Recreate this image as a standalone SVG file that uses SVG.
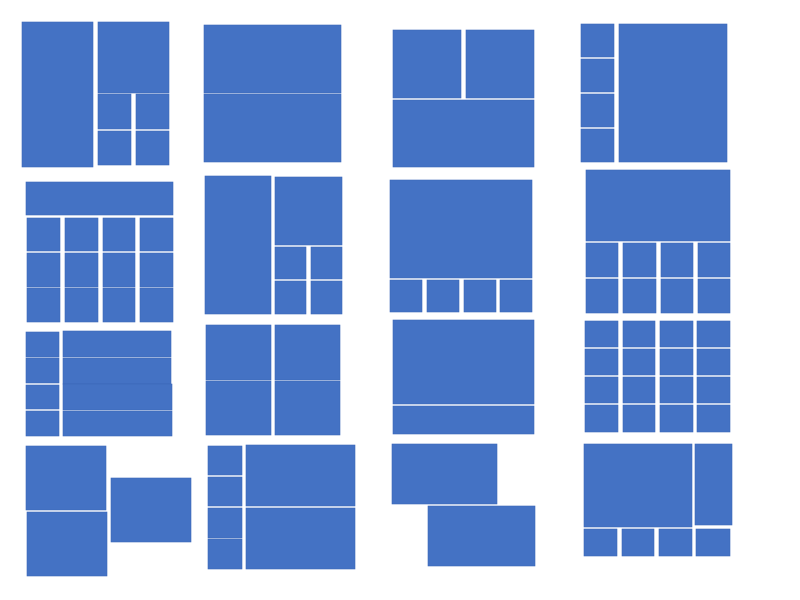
<svg xmlns="http://www.w3.org/2000/svg" width="800" height="600" viewBox="0 0 800 600">
<style>
rect.t{fill:#4472C4;stroke:#3D68B8;stroke-width:0.6}
</style>
<rect width="800" height="600" fill="#FFFFFF"/>
<g id="layout1">
<rect class="t" x="22" y="22" width="71" height="145"/>
<rect class="t" x="98" y="22" width="71" height="71"/>
<rect class="t" x="98" y="94" width="33" height="35"/>
<rect class="t" x="136" y="94" width="33" height="35"/>
<rect class="t" x="98" y="131" width="33" height="34"/>
<rect class="t" x="136" y="131" width="33" height="34"/>
</g>
<g id="layout2">
<rect class="t" x="204" y="25" width="137" height="68"/>
<rect class="t" x="204" y="94" width="137" height="68"/>
</g>
<g id="layout3">
<rect class="t" x="393" y="30" width="68" height="68"/>
<rect class="t" x="466" y="30" width="68" height="68"/>
<rect class="t" x="393" y="100" width="141" height="67"/>
</g>
<g id="layout4">
<rect class="t" x="581" y="24" width="33" height="33"/>
<rect class="t" x="581" y="59" width="33" height="33"/>
<rect class="t" x="581" y="94" width="33" height="33"/>
<rect class="t" x="581" y="129" width="33" height="33"/>
<rect class="t" x="619" y="24" width="108" height="138"/>
</g>
<g id="layout5">
<rect class="t" x="26" y="182" width="147" height="33"/>
<rect class="t" x="27" y="218" width="33" height="33"/>
<rect class="t" x="65" y="218" width="33" height="33"/>
<rect class="t" x="103" y="218" width="32" height="33"/>
<rect class="t" x="140" y="218" width="33" height="33"/>
<rect class="t" x="27" y="253" width="33" height="34"/>
<rect class="t" x="65" y="253" width="33" height="34"/>
<rect class="t" x="103" y="253" width="32" height="34"/>
<rect class="t" x="140" y="253" width="33" height="34"/>
<rect class="t" x="27" y="288" width="33" height="34"/>
<rect class="t" x="65" y="288" width="33" height="34"/>
<rect class="t" x="103" y="288" width="32" height="34"/>
<rect class="t" x="140" y="288" width="33" height="34"/>
</g>
<g id="layout6">
<rect class="t" x="205" y="176" width="66" height="138"/>
<rect class="t" x="275" y="177" width="67" height="68"/>
<rect class="t" x="275" y="247" width="31" height="32"/>
<rect class="t" x="311" y="247" width="31" height="32"/>
<rect class="t" x="275" y="281" width="31" height="33"/>
<rect class="t" x="311" y="281" width="31" height="33"/>
</g>
<g id="layout7">
<rect class="t" x="390" y="180" width="142" height="98"/>
<rect class="t" x="390" y="280" width="32" height="32"/>
<rect class="t" x="427" y="280" width="32" height="32"/>
<rect class="t" x="464" y="280" width="32" height="32"/>
<rect class="t" x="500" y="280" width="32" height="32"/>
</g>
<g id="layout8">
<rect class="t" x="586" y="170" width="144" height="71"/>
<rect class="t" x="586" y="243" width="32" height="34"/>
<rect class="t" x="623" y="243" width="33" height="34"/>
<rect class="t" x="661" y="243" width="32" height="34"/>
<rect class="t" x="698" y="243" width="32" height="34"/>
<rect class="t" x="586" y="279" width="32" height="34"/>
<rect class="t" x="623" y="279" width="33" height="34"/>
<rect class="t" x="661" y="279" width="32" height="34"/>
<rect class="t" x="698" y="279" width="32" height="34"/>
</g>
<g id="layout9">
<rect class="t" x="26" y="332" width="33" height="25"/>
<rect class="t" x="26" y="358" width="33" height="25"/>
<rect class="t" x="26" y="385" width="33" height="24"/>
<rect class="t" x="26" y="411" width="33" height="25"/>
<rect class="t" x="63" y="331" width="108" height="26"/>
<rect class="t" x="63" y="358" width="108" height="26"/>
<rect class="t" x="63" y="384" width="109" height="26"/>
<rect class="t" x="63" y="411" width="109" height="25"/>
</g>
<g id="layout10">
<rect class="t" x="206" y="325" width="65" height="55"/>
<rect class="t" x="275" y="325" width="65" height="55"/>
<rect class="t" x="206" y="381" width="65" height="54"/>
<rect class="t" x="275" y="381" width="65" height="54"/>
</g>
<g id="layout11">
<rect class="t" x="393" y="320" width="141" height="84"/>
<rect class="t" x="393" y="406" width="141" height="28"/>
</g>
<g id="layout12">
<rect class="t" x="585" y="321" width="33" height="26"/>
<rect class="t" x="623" y="321" width="32" height="26"/>
<rect class="t" x="660" y="321" width="33" height="26"/>
<rect class="t" x="697" y="321" width="33" height="26"/>
<rect class="t" x="585" y="349" width="33" height="26"/>
<rect class="t" x="623" y="349" width="32" height="26"/>
<rect class="t" x="660" y="349" width="33" height="26"/>
<rect class="t" x="697" y="349" width="33" height="26"/>
<rect class="t" x="585" y="377" width="33" height="26"/>
<rect class="t" x="623" y="377" width="32" height="26"/>
<rect class="t" x="660" y="377" width="33" height="26"/>
<rect class="t" x="697" y="377" width="33" height="26"/>
<rect class="t" x="585" y="405" width="33" height="27"/>
<rect class="t" x="623" y="405" width="32" height="27"/>
<rect class="t" x="660" y="405" width="33" height="27"/>
<rect class="t" x="697" y="405" width="33" height="27"/>
</g>
<g id="layout13">
<rect class="t" x="26" y="446" width="80" height="64"/>
<rect class="t" x="27" y="512" width="80" height="64"/>
<rect class="t" x="111" y="478" width="80" height="64"/>
</g>
<g id="layout14">
<rect class="t" x="208" y="446" width="34" height="29"/>
<rect class="t" x="208" y="477" width="34" height="29"/>
<rect class="t" x="208" y="508" width="34" height="30"/>
<rect class="t" x="208" y="539" width="34" height="30"/>
<rect class="t" x="246" y="445" width="109" height="61"/>
<rect class="t" x="246" y="508" width="109" height="61"/>
</g>
<g id="layout15">
<rect class="t" x="392" y="444" width="105" height="60"/>
<rect class="t" x="428" y="506" width="107" height="60"/>
</g>
<g id="layout16">
<rect class="t" x="584" y="444" width="108" height="83"/>
<rect class="t" x="695" y="444" width="37" height="81"/>
<rect class="t" x="584" y="529" width="33" height="27"/>
<rect class="t" x="622" y="529" width="32" height="27"/>
<rect class="t" x="659" y="529" width="33" height="27"/>
<rect class="t" x="696" y="529" width="34" height="27"/>
</g>
</svg>
